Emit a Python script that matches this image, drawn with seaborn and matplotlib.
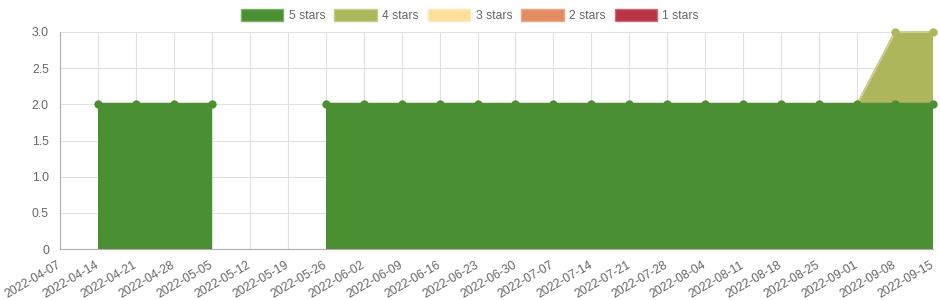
import numpy as np
import pandas as pd
import matplotlib
matplotlib.use("Agg")
import matplotlib.pyplot as plt
from matplotlib.patches import Patch
import seaborn as sns

dates = ["2022-04-07", "2022-04-14", "2022-04-21", "2022-04-28", "2022-05-05",
         "2022-05-12", "2022-05-19", "2022-05-26", "2022-06-02", "2022-06-09",
         "2022-06-16", "2022-06-23", "2022-06-30", "2022-07-07", "2022-07-14",
         "2022-07-21", "2022-07-28", "2022-08-04", "2022-08-11", "2022-08-18",
         "2022-08-25", "2022-09-01", "2022-09-08", "2022-09-15"]
nan = np.nan
five_stars = [nan, 2, 2, 2, 2, nan, nan, 2, 2, 2, 2, 2, 2, 2, 2, 2, 2, 2, 2, 2, 2, 2, 2, 2]
four_stars = [nan, 0, 0, 0, 0, nan, nan, 0, 0, 0, 0, 0, 0, 0, 0, 0, 0, 0, 0, 0, 0, 0, 1, 1]
three_stars = [nan, 0, 0, 0, 0, nan, nan, 0, 0, 0, 0, 0, 0, 0, 0, 0, 0, 0, 0, 0, 0, 0, 0, 0]
two_stars = list(three_stars)
one_stars = list(three_stars)

series_names = ["5 stars", "4 stars", "3 stars", "2 stars", "1 stars"]
series_vals = [five_stars, four_stars, three_stars, two_stars, one_stars]
colors = ["#4a8f32", "#aeb65c", "#fee09b", "#e48c61", "#b93447"]
edge_colors = ["#78b065", "#c6cc8c", "#fde9b9", "#eaaa8a", "#cc6b78"]
y_ticks = [0, 0.5, 1.0, 1.5, 2.0, 2.5, 3.0]
y_labels = ["0", "0.5", "1.0", "1.5", "2.0", "2.5", "3.0"]

sns.set_style("white")
plt.rcParams["font.family"] = ["Liberation Sans", "DejaVu Sans"]

x = np.arange(len(dates))
vals = np.array(series_vals, dtype=float)
cum = np.cumsum(vals, axis=0)

fig = plt.figure(figsize=(9.4, 3.0), dpi=100)
ax = fig.add_axes([60 / 940, 1 - 249 / 300, (933 - 60) / 940, (249 - 32) / 300])

grid_c = "#e1e1e1"
for xi in x:
    ax.axvline(xi, color=grid_c, lw=0.8, zorder=0)
for yt in y_ticks:
    ax.axhline(yt, color=grid_c, lw=0.8, zorder=0)

# stacked fills, top series drawn first so 5 stars ends on top
for i in range(len(series_names) - 1, -1, -1):
    lower = cum[i - 1] if i > 0 else np.zeros(len(x))
    lower = np.where(np.isnan(cum[i]), np.nan, lower)
    ax.fill_between(x, lower, cum[i], color=colors[i], lw=0, zorder=2 + (5 - i) * 0.1)

for i in range(len(series_names) - 1, -1, -1):
    ax.plot(x, cum[i], color=colors[i] if i == 0 else edge_colors[i], lw=1.2 if i else 2.5,
            zorder=3 + (5 - i) * 0.1, solid_joinstyle="round", clip_on=False)

# points
pts5 = pd.DataFrame({"x": x, "y": cum[0]}).dropna()
sns.scatterplot(data=pts5, x="x", y="y", ax=ax, color=colors[0], s=36, edgecolor=colors[0],
                linewidth=0, zorder=5, clip_on=False)
pts4 = pd.DataFrame({"x": x, "y": cum[1], "v": vals[1]}).dropna()
pts4 = pts4[pts4["v"] > 0]
sns.scatterplot(data=pts4, x="x", y="y", ax=ax, color=colors[1], s=36, edgecolor=colors[1],
                linewidth=0, zorder=5, clip_on=False)

ax.set_xlim(0, len(dates) - 1)
ax.set_ylim(0, 3.0)
ax.set_xticks(x)
ax.set_xticklabels(dates, rotation=30, ha="right", va="center", rotation_mode="anchor")
ax.set_yticks(y_ticks)
ax.set_yticklabels(y_labels)
ax.set_xlabel("")
ax.set_ylabel("")
ax.tick_params(axis="both", colors="#666666", labelsize=8.7, length=6, width=0.8,
               direction="out")
ax.tick_params(axis="x", pad=5)
ax.tick_params(axis="y", pad=2)
ax.tick_params(axis="both", color=grid_c)
for s in ["top", "right"]:
    ax.spines[s].set_visible(False)
for s in ["left", "bottom"]:
    ax.spines[s].set_color("#b0b0b0")
    ax.spines[s].set_linewidth(0.8)
    ax.spines[s].set_zorder(6)

handles = [Patch(facecolor=c, edgecolor=e, lw=1) for c, e in zip(colors, edge_colors)]
fig.legend(handles, series_names, loc="upper center", bbox_to_anchor=(0.5, 1.005), ncol=5,
           frameon=False, fontsize=8.7, handlelength=3.5, handleheight=1.1,
           handletextpad=0.45, columnspacing=0.75, labelcolor="#666666")

fig.savefig("out.png", dpi=100)
